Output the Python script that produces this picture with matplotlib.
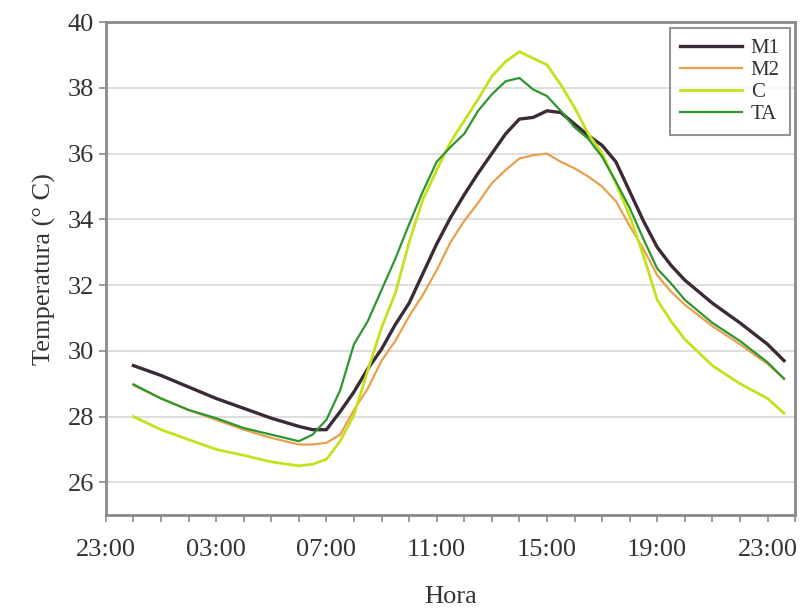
import matplotlib
matplotlib.use("Agg")
import matplotlib.pyplot as plt

# hours elapsed since 23:00 of the previous day
hours = [1, 2, 3, 4, 5, 6, 7, 7.5, 8, 8.5, 9, 9.5, 10, 10.5, 11, 11.5, 12, 12.5,
         13, 13.5, 14, 14.5, 15, 15.5, 16, 16.5, 17, 17.5, 18, 18.5, 19, 19.5,
         20, 20.5, 21, 22, 23, 24, 24.6]

m1 = [29.55, 29.25, 28.9, 28.55, 28.25, 27.95, 27.7, 27.6, 27.6, 28.15, 28.75,
      29.45, 30.05, 30.8, 31.45, 32.35, 33.25, 34.05, 34.75, 35.4, 36.0, 36.6,
      37.05, 37.1, 37.3, 37.25, 36.9, 36.55, 36.25, 35.75, 34.85, 33.95, 33.15,
      32.6, 32.15, 31.45, 30.85, 30.2, 29.7]
m2 = [28.95, 28.55, 28.2, 27.9, 27.6, 27.35, 27.15, 27.15, 27.2, 27.45, 28.2,
      28.85, 29.7, 30.3, 31.05, 31.7, 32.45, 33.3, 33.95, 34.5, 35.1, 35.5,
      35.85, 35.95, 36.0, 35.75, 35.55, 35.3, 35.0, 34.55, 33.8, 33.1, 32.3,
      31.8, 31.4, 30.75, 30.2, 29.6, 29.15]
c = [28.0, 27.6, 27.3, 27.0, 26.82, 26.62, 26.5, 26.55, 26.7, 27.25, 28.05,
     29.4, 30.7, 31.75, 33.3, 34.6, 35.5, 36.35, 37.0, 37.65, 38.35, 38.8,
     39.1, 38.9, 38.7, 38.1, 37.4, 36.6, 36.0, 35.1, 34.1, 32.9, 31.55, 30.9,
     30.35, 29.55, 29.0, 28.55, 28.1]
ta = [28.98, 28.55, 28.2, 27.95, 27.65, 27.45, 27.25, 27.45, 27.9, 28.8, 30.2,
      30.9, 31.85, 32.8, 33.85, 34.85, 35.75, 36.2, 36.6, 37.3, 37.8, 38.2,
      38.3, 37.95, 37.75, 37.3, 36.8, 36.45, 35.9, 35.15, 34.35, 33.4, 32.5,
      32.05, 31.55, 30.85, 30.3, 29.65, 29.15]

tick_labels = ["23:00", "03:00", "07:00", "11:00", "15:00", "19:00", "23:00"]

plt.rcParams["font.family"] = ["Liberation Serif", "DejaVu Serif"]

fig = plt.figure(figsize=(8.08, 6.14), dpi=100)
ax = fig.add_axes([0.131, 0.161, 0.853, 0.803])

ax.plot(hours, m1, color="#3b2a38", lw=2.4, label="M1")
ax.plot(hours, m2, color="#e8a04c", lw=1.6, label="M2")
ax.plot(hours, c, color="#c6e01c", lw=2.0, label="C")
ax.plot(hours, ta, color="#2e962e", lw=1.6, label="TA")

ax.set_xlim(0, 25)
ax.set_ylim(25, 40)
ax.set_xticks(range(0, 25, 4))
ax.set_xticklabels(tick_labels)
ax.set_xticks(range(0, 26), minor=True)
ax.set_yticks(range(26, 41, 2))

ax.grid(axis="y", color="#d8d8d8", lw=1.2)
ax.set_axisbelow(True)

for s in ax.spines.values():
    s.set_color("#8a8a8a")
    s.set_linewidth(2)

ax.tick_params(axis="both", which="both", direction="out", length=5,
               width=1.2, color="#8a8a8a", labelsize=19, labelcolor="#333333")
ax.tick_params(axis="x", pad=12)

ax.set_xlabel("Hora", fontsize=19, color="#333333", labelpad=18)
ax.set_ylabel("Temperatura (° C)", fontsize=19, color="#333333", labelpad=8)

leg = ax.legend(loc="upper right", bbox_to_anchor=(0.993, 0.988), fontsize=15,
                frameon=True, fancybox=False, handlelength=3.0,
                labelspacing=0.12, borderpad=0.5, handletextpad=0.4,
                borderaxespad=0)
leg.get_frame().set_edgecolor("#7a7a7a")
leg.get_frame().set_linewidth(1.5)
for t in leg.get_texts():
    t.set_color("#333333")

fig.savefig("out.png", dpi=100)
